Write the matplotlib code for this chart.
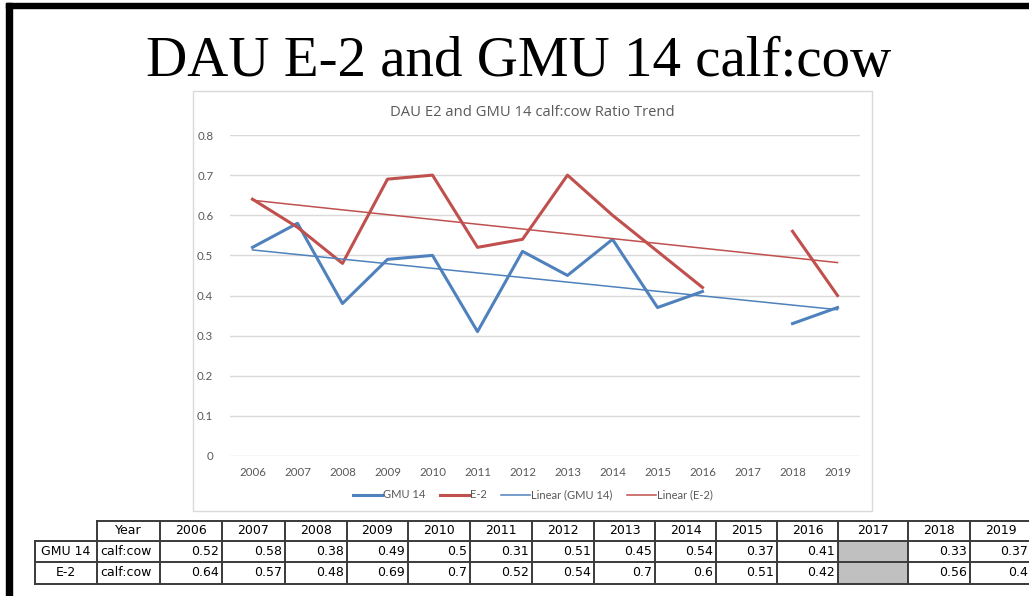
import numpy as np
import matplotlib
matplotlib.use("Agg")
import matplotlib.pyplot as plt
from matplotlib.patches import Rectangle
from matplotlib.lines import Line2D

years = ["2006", "2007", "2008", "2009", "2010", "2011", "2012",
         "2013", "2014", "2015", "2016", "2017", "2018", "2019"]
gmu14 = [0.52, 0.58, 0.38, 0.49, 0.5, 0.31, 0.51, 0.45, 0.54, 0.37, 0.41, None, 0.33, 0.37]
e2 = [0.64, 0.57, 0.48, 0.69, 0.7, 0.52, 0.54, 0.7, 0.6, 0.51, 0.42, None, 0.56, 0.4]
gmu14_txt = ["0.52", "0.58", "0.38", "0.49", "0.5", "0.31", "0.51", "0.45", "0.54", "0.37", "0.41", "", "0.33", "0.37"]
e2_txt = ["0.64", "0.57", "0.48", "0.69", "0.7", "0.52", "0.54", "0.7", "0.6", "0.51", "0.42", "", "0.56", "0.4"]

W, H = 1029, 596
BLUE = "#4F81BD"
RED = "#C0504D"
GREY_TXT = "#595959"


def rect(x0, y0, x1, y1):
    return [x0 / W, 1 - y1 / H, (x1 - x0) / W, (y1 - y0) / H]


def trend(vals):
    x = np.arange(len(vals), dtype=float)
    y = np.array([np.nan if v is None else v for v in vals], dtype=float)
    ok = ~np.isnan(y)
    k, b = np.polyfit(x[ok], y[ok], 1)
    return k * x + b


fig = plt.figure(figsize=(W / 100, H / 100), dpi=100)
bg = fig.add_axes([0, 0, 1, 1])
bg.set_xlim(0, W)
bg.set_ylim(H, 0)
bg.axis("off")

# slide frame
bg.add_patch(Rectangle((6, 3), W, 4.5, color="black"))
bg.add_patch(Rectangle((6, 3), 6, H, color="black"))

bg.text(519, 76, "DAU E-2 and GMU 14 calf:cow", ha="center", va="baseline",
        family="Liberation Serif", size=41, color="black")

# chart box
bg.add_patch(Rectangle((193, 91), 679, 420, fill=False, edgecolor="#D9D9D9", lw=1))
bg.text(532, 112, "DAU E2 and GMU 14 calf:cow Ratio Trend", ha="center", va="center",
        family="Open Sans", size=10.6, color=GREY_TXT)

# chart
ax = fig.add_axes(rect(230, 135, 860, 456))
ax.set_xlim(-0.5, len(years) - 0.5)
ax.set_ylim(0, 0.8)
ax.set_yticks(np.arange(0, 0.81, 0.1))
ax.set_yticklabels(["0", "0.1", "0.2", "0.3", "0.4", "0.5", "0.6", "0.7", "0.8"])
ax.set_xticks(range(len(years)))
ax.set_xticklabels(years)
ax.grid(axis="y", color="#D9D9D9", lw=1)
ax.set_axisbelow(True)
for s in ax.spines.values():
    s.set_visible(False)
ax.tick_params(axis="x", length=0, labelsize=8.3, labelcolor=GREY_TXT, pad=8)
ax.tick_params(axis="y", length=0, labelsize=8.3, labelcolor=GREY_TXT, pad=12)
for lab in ax.get_xticklabels() + ax.get_yticklabels():
    lab.set_family("Lato")
ax.patch.set_alpha(0)

x = np.arange(len(years))
g = np.array([np.nan if v is None else v for v in gmu14], dtype=float)
e = np.array([np.nan if v is None else v for v in e2], dtype=float)
ax.plot(x, g, color=BLUE, lw=2.2, clip_on=False)
ax.plot(x, e, color=RED, lw=2.2, clip_on=False)
ax.plot(x, trend(gmu14), color=BLUE, lw=1.1, clip_on=False)
ax.plot(x, trend(e2), color=RED, lw=1.1, clip_on=False)

handles = [Line2D([], [], color=BLUE, lw=2.2), Line2D([], [], color=RED, lw=2.2),
           Line2D([], [], color=BLUE, lw=1.1), Line2D([], [], color=RED, lw=1.1)]
labels = ["GMU 14", "E-2", "Linear (GMU 14)", "Linear (E-2)"]
fig.legend(handles, labels, loc="center", bbox_to_anchor=(533 / W, 1 - 495 / H), ncol=4,
           frameon=False, handlelength=2.6, handletextpad=0.1, columnspacing=1.3,
           prop={"family": "Lato", "size": 8}, labelcolor=GREY_TXT)

# data table
cols = [35, 97, 160, 222, 285, 347, 408, 470, 532, 594, 655, 716, 777, 838, 908, 970, 1032]
rows = [521, 541, 562, 584]
line_c = "#3A3A3A"
tfont = {"family": "DejaVu Sans", "size": 9, "color": "black"}

for i, yr in enumerate(years):
    if yr == "2017":
        bg.add_patch(Rectangle((cols[i + 2], rows[1]), cols[i + 3] - cols[i + 2],
                               rows[3] - rows[1], color="#C0C0C0", lw=0))
for yv in rows:
    start = cols[1] if yv == rows[0] else cols[0]
    bg.plot([start, cols[-1]], [yv, yv], color=line_c, lw=1.4)
for j, xv in enumerate(cols):
    top = rows[1] if j == 0 else rows[0]
    bg.plot([xv, xv], [top, rows[3]], color=line_c, lw=1.4)


def mid(a, b):
    return (a + b) / 2


bg.text(mid(cols[1], cols[2]), mid(rows[0], rows[1]), "Year", ha="center", va="center", **tfont)
for i, yr in enumerate(years):
    bg.text(mid(cols[i + 2], cols[i + 3]), mid(rows[0], rows[1]), yr, ha="center", va="center", **tfont)
for r, (name, vals) in enumerate([("GMU 14", gmu14_txt), ("E-2", e2_txt)]):
    yc = mid(rows[r + 1], rows[r + 2])
    bg.text(mid(cols[0], cols[1]), yc, name, ha="center", va="center", **tfont)
    bg.text(cols[1] + 3, yc, "calf:cow", ha="left", va="center", **tfont)
    for i, v in enumerate(vals):
        if v:
            bg.text(min(cols[i + 3] - 3, W - 1), yc, v, ha="right", va="center", **tfont)

fig.savefig("out.png", dpi=100)
